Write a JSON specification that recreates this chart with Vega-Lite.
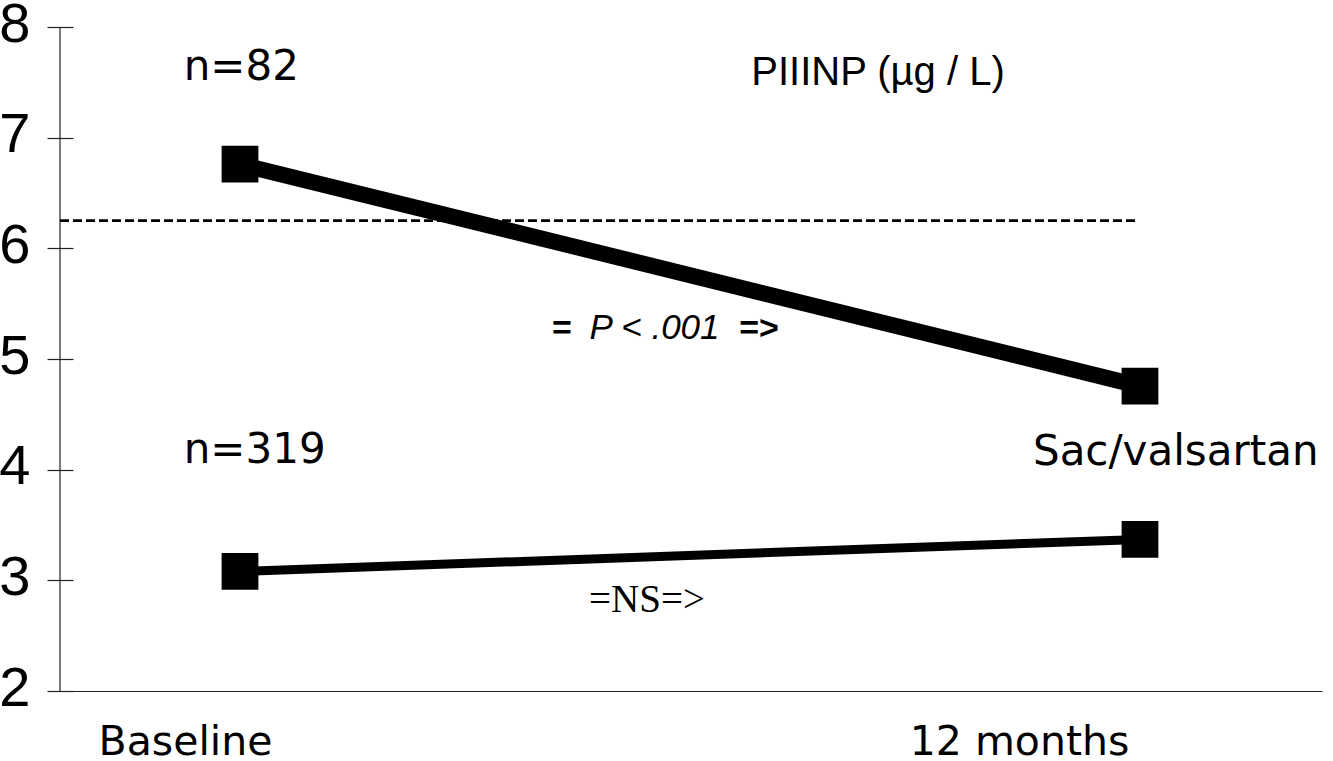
{
  "$schema": "https://vega.github.io/schema/vega-lite/v6.json",
  "width": 1262,
  "height": 664,
  "autosize": {"type": "none"},
  "padding": {"left": 60, "top": 27, "right": 11, "bottom": 70},
  "background": "white",
  "config": {"view": {"stroke": null}, "axis": {"grid": false}},
  "data": {
    "values": [
      {"group": "n=82", "x": 0, "y": 6.76},
      {"group": "n=82", "x": 12, "y": 4.755},
      {"group": "n=319", "x": 0, "y": 3.08},
      {"group": "n=319", "x": 12, "y": 3.37}
    ]
  },
  "encoding": {
    "x": {
      "field": "x",
      "type": "quantitative",
      "scale": {"domain": [-2.4, 14.4267], "nice": false, "zero": false},
      "axis": {
        "title": null,
        "values": [-0.733, 10.387],
        "labelExpr": "datum.value < 5 ? 'Baseline' : '12 months'",
        "ticks": false,
        "tickSize": 0,
        "labelFont": "DejaVu Sans",
        "labelFontSize": 41,
        "labelColor": "black",
        "labelBaseline": "alphabetic",
        "labelPadding": 63,
        "labelFlush": false,
        "labelOverlap": false,
        "labelLimit": 0,
        "domainColor": "#222",
        "domainWidth": 1.2
      }
    },
    "y": {
      "field": "y",
      "type": "quantitative",
      "scale": {"domain": [2, 8], "nice": false, "zero": false},
      "axis": {
        "title": null,
        "values": [2, 3, 4, 5, 6, 7, 8],
        "offset": -13,
        "domain": false,
        "tickSize": 26,
        "tickColor": "#222",
        "tickWidth": 1.2,
        "labelPadding": 17,
        "labelFont": "Liberation Sans",
        "labelFontSize": 56,
        "labelColor": "black",
        "labelOffset": -3,
        "labelOverlap": false,
        "labelLimit": 0
      }
    }
  },
  "layer": [
    {
      "data": {"values": [{"x": -2.4, "y": 2, "y2": 8}]},
      "mark": {"type": "rule", "color": "#222", "strokeWidth": 1.2},
      "encoding": {"y2": {"field": "y2"}}
    },
    {
      "data": {"values": [{"x": -2.4, "x2": 11.97, "y": 6.25}]},
      "mark": {"type": "rule", "color": "black", "strokeWidth": 2.8, "strokeDash": [9, 4]},
      "encoding": {"x2": {"field": "x2"}}
    },
    {
      "mark": {"type": "line", "color": "black", "strokeCap": "butt"},
      "encoding": {
        "detail": {"field": "group"},
        "strokeWidth": {
          "field": "group",
          "type": "nominal",
          "scale": {"domain": ["n=82", "n=319"], "range": [16, 9]},
          "legend": null
        }
      }
    },
    {
      "mark": {"type": "point", "shape": "square", "filled": true, "size": 1350, "color": "black", "opacity": 1}
    },
    {
      "data": {
        "values": [
          {"x": -0.75, "y": 7.521, "label": "n=82"},
          {"x": -0.75, "y": 4.061, "label": "n=319"},
          {"x": 10.573, "y": 4.043, "label": "Sac/valsartan"}
        ]
      },
      "mark": {"type": "text", "font": "DejaVu Sans", "fontSize": 42, "align": "left", "baseline": "alphabetic", "color": "black"},
      "encoding": {"text": {"field": "label"}}
    },
    {
      "data": {"values": [{"x": 8.507, "y": 7.476, "label": "PIIINP (µg / L)"}]},
      "mark": {"type": "text", "font": "Liberation Sans", "fontSize": 40, "align": "center", "baseline": "alphabetic", "color": "black"},
      "encoding": {"text": {"field": "label"}}
    },
    {
      "data": {"values": [{"x": 5.527, "y": 5.182, "label": "P < .001"}]},
      "mark": {"type": "text", "font": "Liberation Sans", "fontSize": 35, "fontStyle": "italic", "align": "center", "baseline": "alphabetic", "color": "black"},
      "encoding": {"text": {"field": "label"}}
    },
    {
      "data": {
        "values": [
          {"x": 4.293, "y": 5.182, "label": "="},
          {"x": 6.92, "y": 5.182, "label": "=>"}
        ]
      },
      "mark": {"type": "text", "font": "Liberation Sans", "fontSize": 34, "fontWeight": "bold", "align": "center", "baseline": "alphabetic", "color": "black"},
      "encoding": {"text": {"field": "label"}}
    },
    {
      "data": {"values": [{"x": 5.427, "y": 2.715, "label": "=NS=>"}]},
      "mark": {"type": "text", "font": "Liberation Serif", "fontSize": 39, "align": "center", "baseline": "alphabetic", "color": "black"},
      "encoding": {"text": {"field": "label"}}
    }
  ]
}
